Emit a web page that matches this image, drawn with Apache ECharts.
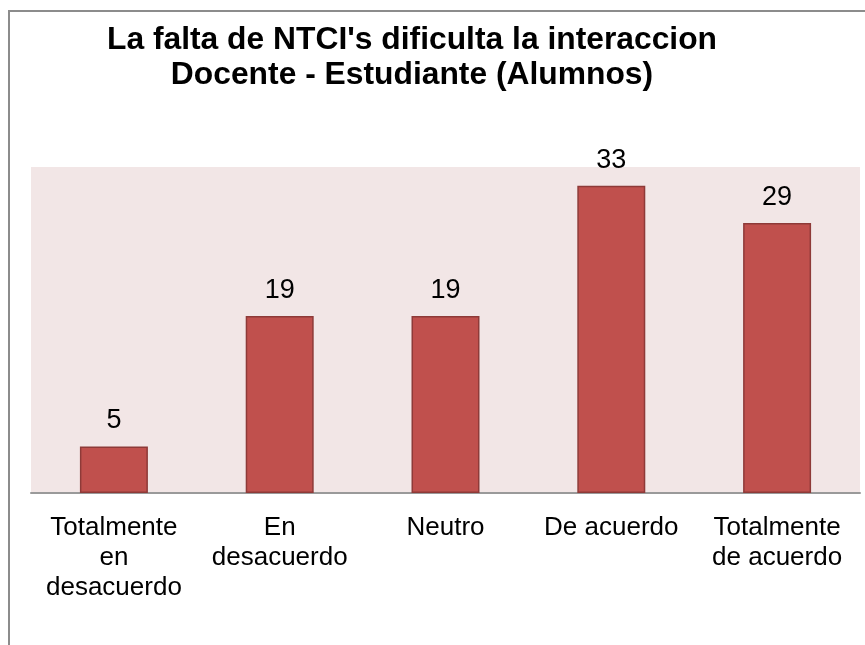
<!DOCTYPE html>
<html lang="es">
<head>
    <meta charset="UTF-8"/>
    <title>NTCI alumnos</title>
    <script src="https://cdn.jsdelivr.net/npm/echarts@6/dist/echarts.min.js"></script>
    <style>
        html, body { margin: 0; padding: 0; background: #fff; }
        #main { width: 865px; height: 645px; }
    </style>
</head>
<body>
<div id="main"></div>
<script type="text/javascript">
    var titulo = "La falta de NTCI's dificulta la interaccion\nDocente - Estudiante (Alumnos)";
    var categorias = ['Totalmente\nen\ndesacuerdo', 'En\ndesacuerdo', 'Neutro', 'De acuerdo', 'Totalmente\nde acuerdo'];
    var valores = [5, 19, 19, 33, 29];

    var myChart = echarts.init(document.getElementById('main'));
    var fuente = '"Liberation Sans", Arial, sans-serif';

    var option = {
        backgroundColor: '#ffffff',
        animation: false,
        graphic: [{
            type: 'rect',
            shape: { x: 9, y: 11, width: 900, height: 700 },
            style: { fill: 'none', stroke: '#8c8c8c', lineWidth: 2 },
            silent: true
        }, {
            // titulo desplazado un poco a la izquierda, como en el original
            type: 'text',
            x: 412,
            y: 23,
            silent: true,
            style: {
                text: titulo,
                align: 'center',
                verticalAlign: 'top',
                fontFamily: fuente,
                fontSize: 31.8,
                fontWeight: 'bold',
                lineHeight: 35,
                fill: '#000'
            }
        }],
        grid: {
            left: 31,
            right: 5,
            top: 167,
            bottom: 152,
            show: true,
            backgroundColor: '#f2e6e6',
            borderWidth: 0
        },
        xAxis: {
            type: 'category',
            data: categorias,
            axisTick: { show: false },
            axisLine: { lineStyle: { color: '#9a9a9a', width: 2 } },
            axisLabel: {
                interval: 0,
                margin: 20,
                fontFamily: fuente,
                fontSize: 26,
                lineHeight: 30,
                color: '#000'
            }
        },
        yAxis: {
            type: 'value',
            min: 0,
            max: 35,
            show: false,
            splitLine: { show: false }
        },
        series: [{
            type: 'bar',
            data: valores,
            barWidth: '41%',
            itemStyle: {
                color: '#c0504d',
                borderColor: '#8e3a38',
                borderWidth: 1.5
            },
            label: {
                show: true,
                position: 'top',
                distance: 12,
                fontFamily: fuente,
                fontSize: 27,
                color: '#000'
            }
        }]
    };

    myChart.setOption(option);
</script>
</body>
</html>
